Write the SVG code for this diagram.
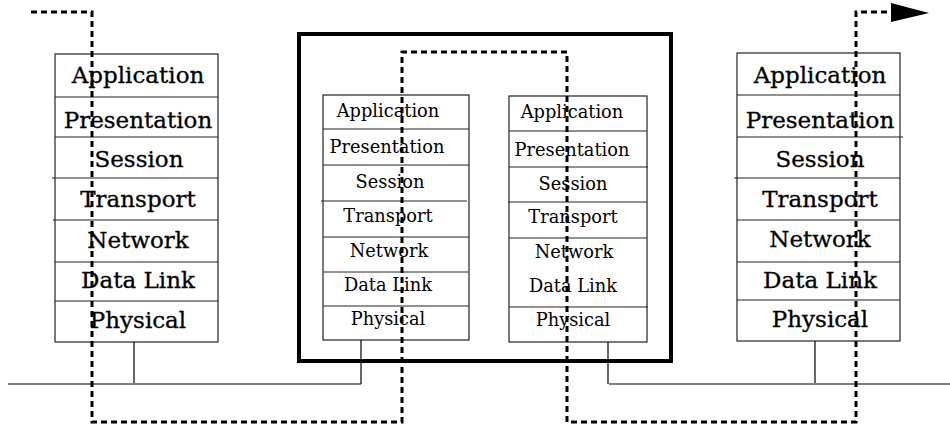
<svg xmlns="http://www.w3.org/2000/svg" width="950" height="428" viewBox="0 0 950 428">
<style>
.box{fill:none;stroke:#222;stroke-width:1.2}
.ln{stroke:#222;stroke-width:1.2}
.big{font-family:"DejaVu Serif","Liberation Serif",serif;font-size:23px;fill:#000;stroke:#000;stroke-width:0.3;text-anchor:middle}
.sm{font-family:"DejaVu Serif","Liberation Serif",serif;font-size:17.8px;fill:#000;text-anchor:middle}
.frame{fill:none;stroke:#000;stroke-width:4}
.path{fill:none;stroke:#000;stroke-width:3;stroke-dasharray:6 4}
.wire{stroke:#000;stroke-width:1.2}
</style>
<rect width="950" height="428" fill="#fff"/>

<g id="host-left">
<rect class="box" x="55" y="54" width="163" height="288"/>
<line class="ln" x1="55" y1="97" x2="218" y2="97"/>
<line class="ln" x1="55" y1="137" x2="218" y2="137"/>
<line class="ln" x1="52" y1="178" x2="218" y2="178"/>
<line class="ln" x1="53" y1="220" x2="218" y2="220"/>
<line class="ln" x1="55" y1="262" x2="218" y2="262"/>
<line class="ln" x1="55" y1="301" x2="218" y2="301"/>
<text class="big" x="138" y="83">Application</text>
<text class="big" x="138" y="128">Presentation</text>
<text class="big" x="139" y="167">Session</text>
<text class="big" x="138" y="207">Transport</text>
<text class="big" x="138" y="248">Network</text>
<text class="big" x="138" y="288">Data Link</text>
<text class="big" x="138" y="328">Physical</text>
</g>

<g id="router">
<rect class="frame" x="299" y="34" width="372" height="327"/>
<g id="router-stack-left">
<rect class="box" x="323" y="95" width="146" height="245"/>
<line class="ln" x1="323" y1="129" x2="469" y2="129"/>
<line class="ln" x1="323" y1="165" x2="469" y2="165"/>
<line class="ln" x1="321" y1="201" x2="467" y2="201"/>
<line class="ln" x1="323" y1="237" x2="469" y2="237"/>
<line class="ln" x1="323" y1="272" x2="469" y2="272"/>
<line class="ln" x1="323" y1="306" x2="469" y2="306"/>
<text class="sm" x="388" y="117">Application</text>
<text class="sm" x="387" y="153">Presentation</text>
<text class="sm" x="390" y="188">Session</text>
<text class="sm" x="388" y="222">Transport</text>
<text class="sm" x="389" y="257">Network</text>
<text class="sm" x="388" y="291">Data Link</text>
<text class="sm" x="388" y="325">Physical</text>
</g>
<g id="router-stack-right">
<rect class="box" x="509" y="96" width="138" height="246"/>
<line class="ln" x1="509" y1="131" x2="647" y2="131"/>
<line class="ln" x1="509" y1="167" x2="648" y2="167"/>
<line class="ln" x1="508" y1="202" x2="647" y2="202"/>
<line class="ln" x1="509" y1="238" x2="647" y2="238"/>
<line class="ln" x1="509" y1="307" x2="648" y2="307"/>
<text class="sm" x="572" y="118">Application</text>
<text class="sm" x="572" y="156">Presentation</text>
<text class="sm" x="573" y="190">Session</text>
<text class="sm" x="573" y="223">Transport</text>
<text class="sm" x="574" y="258">Network</text>
<text class="sm" x="573" y="292">Data Link</text>
<text class="sm" x="573" y="326">Physical</text>
</g>
</g>

<g id="host-right">
<rect class="box" x="737" y="53" width="163" height="288"/>
<line class="ln" x1="737" y1="95" x2="900" y2="95"/>
<line class="ln" x1="737" y1="137" x2="903" y2="137"/>
<line class="ln" x1="734" y1="178" x2="900" y2="178"/>
<line class="ln" x1="737" y1="220" x2="900" y2="220"/>
<line class="ln" x1="737" y1="262" x2="900" y2="262"/>
<line class="ln" x1="737" y1="300" x2="900" y2="300"/>
<text class="big" x="820" y="83">Application</text>
<text class="big" x="820" y="128">Presentation</text>
<text class="big" x="820" y="167">Session</text>
<text class="big" x="820" y="207">Transport</text>
<text class="big" x="820" y="247">Network</text>
<text class="big" x="820" y="288">Data Link</text>
<text class="big" x="820" y="327">Physical</text>
</g>

<g id="connectors">
<line class="wire" x1="8" y1="384" x2="361" y2="384"/>
<line class="wire" x1="609" y1="384" x2="950" y2="384"/>
<line class="wire" x1="134" y1="342" x2="134" y2="383"/>
<line class="wire" x1="361" y1="340" x2="361" y2="384"/>
<line class="wire" x1="608" y1="342" x2="608" y2="384"/>
<line class="wire" x1="815" y1="341" x2="815" y2="383"/>
<path class="path" d="M31 12 H92 V422 H402 V52 H567 V422 H856 V12 H888"/>
<polygon points="891,3 929,13 891,22" fill="#000"/>
</g>
</svg>
